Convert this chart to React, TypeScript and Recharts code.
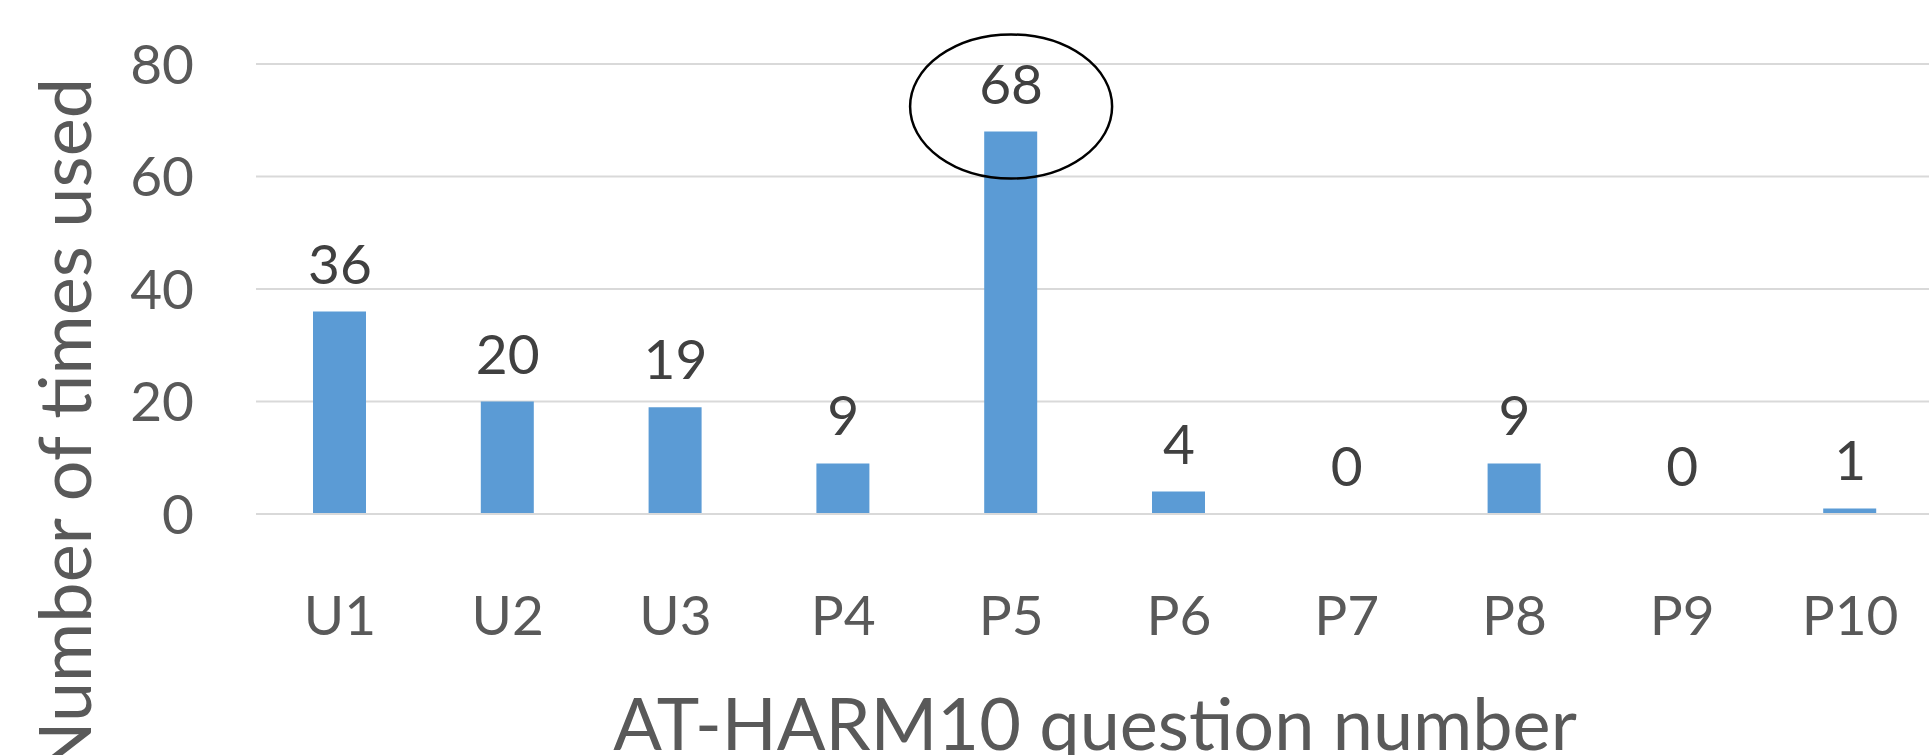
import React from 'react';
import {
  ComposedChart,
  Bar,
  Line,
  XAxis,
  YAxis,
  CartesianGrid,
  LabelList,
  ReferenceDot
} from 'recharts';

const questions = ['U1', 'U2', 'U3', 'P4', 'P5', 'P6', 'P7', 'P8', 'P9', 'P10'];
const timesUsed = [36, 20, 19, 9, 68, 4, 0, 9, 0, 1];
const yTicks = [0, 20, 40, 60, 80];

const data = questions.map((q, i) => ({ name: q, used: timesUsed[i] }));

const FONT = 'Lato, "Open Sans", sans-serif';

// y axis title, rotated, cut off at the bottom edge like the original
const YTitle = (props: any) => {
  const vb = props.viewBox;
  const x = vb.x + 91;
  const y = vb.y + 14;
  return (
    <text
      x={x}
      y={y}
      transform={`rotate(-90 ${x} ${y})`}
      textAnchor="end"
      fill="#595959"
      fontSize={72}
      fontFamily={FONT}
    >
      Number of times used
    </text>
  );
};

const XTitle = (props: any) => {
  const vb = props.viewBox;
  return (
    <text
      x={vb.x + vb.width / 2}
      y={vb.y + 236}
      textAnchor="middle"
      fill="#595959"
      fontSize={72}
      fontFamily={FONT}
    >
      AT-HARM10 question number
    </text>
  );
};

// the hand-drawn ellipse around the P5 label
const Ring = (props: any) => (
  <ellipse
    cx={props.cx}
    cy={props.cy - 25}
    rx={101}
    ry={72}
    fill="none"
    stroke="#000"
    strokeWidth={2.5}
  />
);

export default function App() {
  return (
    <div
      style={{
        position: 'absolute',
        top: 0,
        left: 0,
        width: 1929,
        height: 755,
        overflow: 'hidden',
        background: '#fff',
        fontFamily: FONT
      }}
    >
      <ComposedChart
        width={1940}
        height={755}
        data={data}
        margin={{ top: 64, right: 6, bottom: 0, left: 0 }}
        barSize={53}
      >
        <CartesianGrid vertical={false} stroke="#d9d9d9" strokeWidth={2} />
        <XAxis
          dataKey="name"
          height={241}
          axisLine={{ stroke: '#d9d9d9', strokeWidth: 2 }}
          tickLine={false}
          tickSize={0}
          tickMargin={82}
          tick={{ fill: '#595959', fontSize: 55, fontFamily: FONT }}
          interval={0}
          label={<XTitle />}
        />
        <YAxis
          width={256}
          domain={[0, 80]}
          ticks={yTicks}
          axisLine={false}
          tickLine={false}
          tickSize={0}
          tickMargin={62}
          tick={{ fill: '#595959', fontSize: 55, fontFamily: FONT }}
          label={<YTitle />}
        />
        <Bar dataKey="used" fill="#5b9bd5" isAnimationActive={false} />
        {/* invisible series that carries the value labels, so zeros get one too */}
        <Line
          dataKey="used"
          stroke="none"
          dot={false}
          activeDot={false}
          legendType="none"
          isAnimationActive={false}
        >
          <LabelList
            dataKey="used"
            position="top"
            offset={28}
            fill="#404040"
            fontSize={55}
            fontFamily={FONT}
          />
        </Line>
        <ReferenceDot x="P5" y={68} ifOverflow="visible" shape={<Ring />} />
      </ComposedChart>
    </div>
  );
}
